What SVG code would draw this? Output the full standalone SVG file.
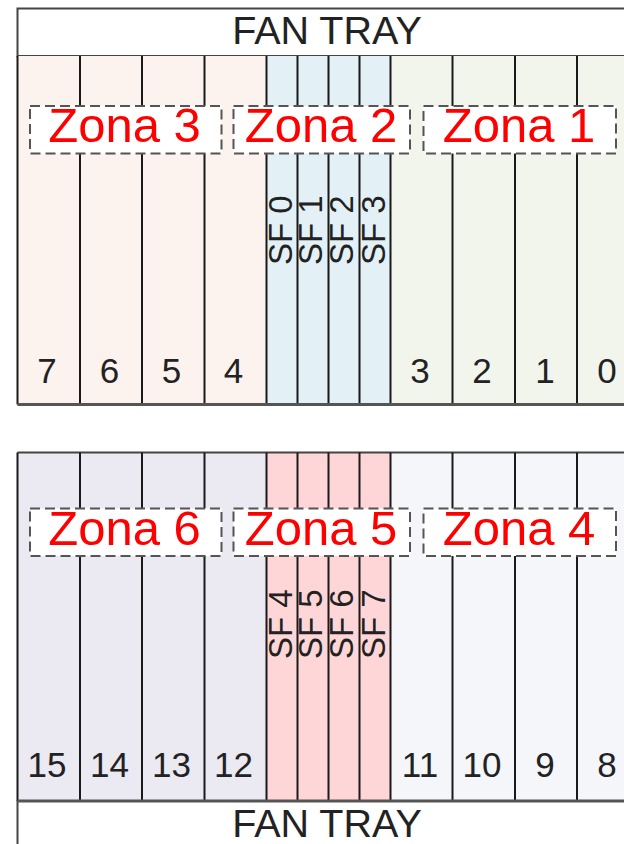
<svg xmlns="http://www.w3.org/2000/svg" width="624" height="844" viewBox="0 0 624 844">
<style>
.ln{stroke:#1a1a1a;stroke-width:2;fill:none}
.base{stroke:#555;stroke-width:3;fill:none}
.frame{fill:#fff;stroke:#444;stroke-width:2}
.zone{fill:#fff;stroke:#555;stroke-width:2;stroke-dasharray:10 5}
.zt{font-family:"Liberation Sans",Arial,sans-serif;font-size:49px;fill:#ff0000;text-anchor:middle}
.num{font-family:"Liberation Sans",Arial,sans-serif;font-size:35px;fill:#222;text-anchor:middle}
.sf{font-family:"Liberation Sans",Arial,sans-serif;font-size:33px;fill:#222}
.fan{font-family:"Liberation Sans",Arial,sans-serif;font-size:39.5px;fill:#222;text-anchor:middle}
</style>

<!-- Upper chassis -->
<g id="fan-tray-top">
<rect class="frame" x="17.5" y="8.5" width="620" height="47.5"/>
<text class="fan" x="327" y="43.5">FAN TRAY</text>
</g>
<g id="upper-backgrounds">
<rect x="17.5" y="56" width="249" height="348.5" fill="#fcf3ee"/>
<rect x="266.5" y="56" width="124" height="348.5" fill="#e3f1f6"/>
<rect x="390.5" y="56" width="240" height="348.5" fill="#f2f5ec"/>
</g>
<g id="upper-slot-lines">
<path class="ln" d="M17.5 56V404.5M80 56V404.5M142 56V404.5M204.5 56V404.5M266.5 56V404.5M297.5 56V404.5M328.5 56V404.5M359.5 56V404.5M390.5 56V404.5M452.5 56V404.5M515 56V404.5M577 56V404.5"/>
<path class="base" d="M17.5 404.5H624"/>
</g>
<g id="slot-7"><text class="num" x="47" y="383">7</text></g>
<g id="slot-6"><text class="num" x="109.5" y="383">6</text></g>
<g id="slot-5"><text class="num" x="171.5" y="383">5</text></g>
<g id="slot-4"><text class="num" x="233.5" y="383">4</text></g>
<g id="slot-3"><text class="num" x="420" y="383">3</text></g>
<g id="slot-2"><text class="num" x="482" y="383">2</text></g>
<g id="slot-1"><text class="num" x="545" y="383">1</text></g>
<g id="slot-0"><text class="num" x="607" y="383">0</text></g>
<g id="sf-0"><text class="sf" transform="translate(291.7 265) rotate(-90)">SF 0</text></g>
<g id="sf-1"><text class="sf" transform="translate(321.7 265) rotate(-90)">SF 1</text></g>
<g id="sf-2"><text class="sf" transform="translate(353 265) rotate(-90)">SF 2</text></g>
<g id="sf-3"><text class="sf" transform="translate(384.5 265) rotate(-90)">SF 3</text></g>
<g id="zona-3">
<rect class="zone" x="30" y="106" width="191.5" height="47.5"/>
<text class="zt" x="124.5" y="142">Zona 3</text>
</g>
<g id="zona-2">
<rect class="zone" x="233.5" y="106" width="176.5" height="47.5"/>
<text class="zt" x="321" y="142">Zona 2</text>
</g>
<g id="zona-1">
<rect class="zone" x="423.5" y="106" width="192.5" height="47.5"/>
<text class="zt" x="519" y="142">Zona 1</text>
</g>

<!-- Lower chassis -->
<g id="lower-backgrounds">
<rect x="17.5" y="452.5" width="249" height="348.5" fill="#ebe9f1"/>
<rect x="266.5" y="452.5" width="124" height="348.5" fill="#ffd6d7"/>
<rect x="390.5" y="452.5" width="240" height="348.5" fill="#f4f6fa"/>
</g>
<g id="lower-slot-lines">
<path class="frame" d="M17.5 452.5H637" fill="none"/>
<path class="ln" d="M17.5 452.5V801M80 452.5V801M142 452.5V801M204.5 452.5V801M266.5 452.5V801M297.5 452.5V801M328.5 452.5V801M359.5 452.5V801M390.5 452.5V801M452.5 452.5V801M515 452.5V801M577 452.5V801"/>
</g>
<g id="fan-tray-bottom">
<rect class="frame" x="17.5" y="801" width="620" height="50"/>
<path class="base" d="M17.5 801H624"/>
<text class="fan" x="327" y="837">FAN TRAY</text>
</g>
<g id="slot-15"><text class="num" x="47" y="777">15</text></g>
<g id="slot-14"><text class="num" x="109.5" y="777">14</text></g>
<g id="slot-13"><text class="num" x="171.5" y="777">13</text></g>
<g id="slot-12"><text class="num" x="233.5" y="777">12</text></g>
<g id="slot-11"><text class="num" x="420" y="777">11</text></g>
<g id="slot-10"><text class="num" x="482" y="777">10</text></g>
<g id="slot-9"><text class="num" x="545" y="777">9</text></g>
<g id="slot-8"><text class="num" x="607" y="777">8</text></g>
<g id="sf-4"><text class="sf" transform="translate(291.7 659) rotate(-90)">SF 4</text></g>
<g id="sf-5"><text class="sf" transform="translate(321.7 659) rotate(-90)">SF 5</text></g>
<g id="sf-6"><text class="sf" transform="translate(353 659) rotate(-90)">SF 6</text></g>
<g id="sf-7"><text class="sf" transform="translate(384.5 659) rotate(-90)">SF 7</text></g>
<g id="zona-6">
<rect class="zone" x="30" y="508.5" width="191.5" height="47.5"/>
<text class="zt" x="124.5" y="545">Zona 6</text>
</g>
<g id="zona-5">
<rect class="zone" x="233.5" y="508.5" width="176.5" height="47.5"/>
<text class="zt" x="321" y="545">Zona 5</text>
</g>
<g id="zona-4">
<rect class="zone" x="423.5" y="508.5" width="192.5" height="47.5"/>
<text class="zt" x="519" y="545">Zona 4</text>
</g>
</svg>
